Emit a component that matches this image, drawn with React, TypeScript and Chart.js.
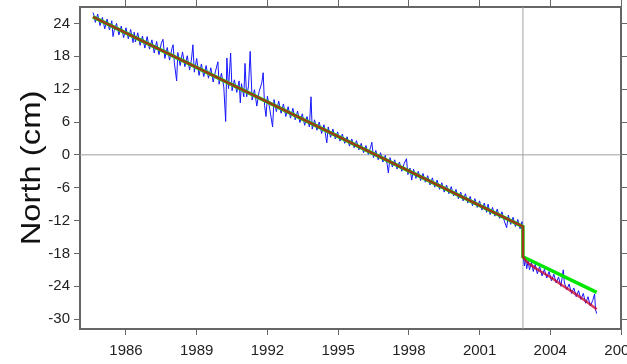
import React, { useEffect, useRef } from "react";
import { Chart, registerables } from "chart.js";

Chart.register(...registerables);

// ---- axis / labels ----
const yTitle = "North (cm)";
const xTicks = [1986, 1989, 1992, 1995, 1998, 2001, 2004, 2007];
const yTicks = [-30, -24, -18, -12, -6, 0, 6, 12, 18, 24];
const xMin = 1984.05;
const xMax = 2007;
const yMin = -31.8;
const yMax = 27;
const quakeYear = 2002.84;

// ---- green: linear trend + coseismic offset ----
const trendYears = [1984.6, 2002.84, 2002.84, 2005.97];
const trendValues = [25.2, -13.1, -18.6, -25.1];

// ---- red: trend + offset + postseismic model ----
const modelYears = [1984.6, 2002.84, 2002.84, 2002.95, 2003.1, 2003.3, 2003.6, 2004.0, 2004.5, 2005.0, 2005.5, 2005.97];
const modelValues = [25.2, -13.1, -18.6, -19.3, -19.9, -20.5, -21.3, -22.3, -23.8, -25.2, -26.7, -28.2];

// ---- blue: daily north positions ----
const blueYears = [
  1984.6, 1984.65, 1984.7, 1984.8, 1984.9, 1985.0, 1985.1, 1985.2, 1985.3, 1985.4,
  1985.45, 1985.5, 1985.6, 1985.7, 1985.8, 1985.9, 1986.0, 1986.1, 1986.2, 1986.3,
  1986.35, 1986.4, 1986.5, 1986.6, 1986.7, 1986.8, 1986.9, 1987.0, 1987.1, 1987.2,
  1987.3, 1987.4, 1987.5, 1987.57, 1987.65, 1987.75, 1987.85, 1987.95, 1988.0, 1988.05,
  1988.15, 1988.2, 1988.3, 1988.4, 1988.5, 1988.6, 1988.7, 1988.78, 1988.84, 1988.9,
  1989.0, 1989.1, 1989.2, 1989.3, 1989.4, 1989.5, 1989.6, 1989.7, 1989.8, 1989.9,
  1989.95, 1990.05, 1990.15, 1990.23, 1990.28, 1990.35, 1990.44, 1990.5, 1990.6, 1990.7,
  1990.8, 1990.85, 1990.9, 1991.0, 1991.05, 1991.12, 1991.2, 1991.27, 1991.35, 1991.45,
  1991.55, 1991.65, 1991.76, 1991.82, 1991.88, 1991.94, 1992.0, 1992.1, 1992.22, 1992.28,
  1992.38, 1992.48, 1992.58, 1992.68, 1992.78, 1992.88, 1992.98, 1993.08, 1993.18, 1993.28,
  1993.38, 1993.48, 1993.58, 1993.68, 1993.78, 1993.85, 1993.9, 1994.0, 1994.1, 1994.2,
  1994.3, 1994.4, 1994.52, 1994.58, 1994.68, 1994.78, 1994.88, 1994.98, 1995.08, 1995.18,
  1995.28, 1995.38, 1995.48, 1995.58, 1995.68, 1995.78, 1995.88, 1995.98, 1996.08, 1996.18,
  1996.28, 1996.38, 1996.43, 1996.5, 1996.6, 1996.7, 1996.8, 1996.9, 1997.0, 1997.08,
  1997.13, 1997.2, 1997.3, 1997.4, 1997.5, 1997.6, 1997.7, 1997.8, 1997.9, 1997.96,
  1998.05, 1998.12, 1998.2, 1998.3, 1998.4, 1998.5, 1998.6, 1998.7, 1998.8, 1998.9,
  1999.0, 1999.1, 1999.2, 1999.3, 1999.4, 1999.5, 1999.6, 1999.7, 1999.8, 1999.9,
  2000.0, 2000.1, 2000.2, 2000.3, 2000.4, 2000.5, 2000.6, 2000.7, 2000.8, 2000.9,
  2001.0, 2001.1, 2001.2, 2001.3, 2001.36, 2001.45, 2001.55, 2001.65, 2001.75, 2001.85,
  2001.95, 2002.05, 2002.15, 2002.22, 2002.32, 2002.42, 2002.52, 2002.62, 2002.72, 2002.8,
  2002.86, 2002.9, 2002.95, 2003.0, 2003.06, 2003.12, 2003.2, 2003.28, 2003.36, 2003.45,
  2003.55, 2003.65, 2003.75, 2003.85, 2003.95, 2004.05, 2004.15, 2004.25, 2004.35, 2004.45,
  2004.55, 2004.6, 2004.7, 2004.8, 2004.9, 2005.0, 2005.1, 2005.2, 2005.3, 2005.4,
  2005.5, 2005.6, 2005.7, 2005.8, 2005.88, 2005.92, 2005.97,
];
const blueValues = [
  26.0, 25.4, 24.2, 25.7, 23.6, 25.1, 23.0, 24.8, 22.8, 24.5,
  21.6, 22.7, 24.0, 21.9, 23.5, 21.4, 23.2, 21.2, 22.9, 20.5,
  22.4, 20.6, 22.3, 20.0, 21.7, 19.5, 21.6, 19.3, 21.0, 18.6,
  20.7, 18.3, 20.4, 21.1, 17.6, 19.6, 17.3, 19.4, 20.1, 16.9,
  13.5, 18.7, 16.3, 18.8, 16.1, 18.1, 15.5, 17.5, 20.1, 15.1,
  17.6, 14.5, 16.6, 14.3, 16.3, 14.0, 15.9, 13.3, 15.3, 17.0,
  12.9, 14.9, 12.4, 6.1, 17.7, 12.1, 18.6, 11.7, 13.7, 11.4,
  13.5, 9.5, 13.0, 10.6, 16.7, 10.6, 12.6, 18.9, 10.0, 11.9,
  8.9, 11.6, 13.1, 15.0, 9.0, 7.0, 10.7, 8.4, 5.1, 10.1,
  7.9, 9.8, 7.6, 9.3, 7.0, 8.8, 6.7, 8.5, 6.4, 8.0,
  5.9, 7.5, 5.4, 7.0, 5.1, 10.6, 4.7, 6.4, 4.5, 6.0,
  3.9, 5.5, 2.2, 5.1, 3.2, 4.7, 2.9, 4.2, 2.5, 3.8,
  2.1, 3.3, 1.6, 2.9, 1.3, 2.6, 0.9, 2.1, 0.4, 1.7,
  0.1, 1.4, 2.3, -0.5, 0.8, -0.9, 0.4, -1.3, -0.1, -1.7,
  -3.3, -0.5, -2.2, -0.9, -2.6, -1.3, -3.0, -1.6, -0.7, -3.6,
  -2.4, -4.6, -2.6, -4.3, -3.0, -4.7, -3.4, -5.0, -3.8, -5.5,
  -4.2, -5.9, -4.6, -6.3, -5.1, -6.8, -5.5, -7.1, -5.8, -7.5,
  -6.3, -8.0, -6.8, -8.4, -7.1, -8.8, -7.6, -9.3, -8.0, -9.6,
  -8.4, -10.1, -8.8, -10.5, -9.0, -10.9, -9.6, -11.2, -9.9, -11.6,
  -10.4, -12.1, -13.3, -11.0, -12.7, -11.4, -13.1, -11.8, -13.5, -12.2,
  -18.7, -20.3, -19.0, -20.8, -19.4, -21.0, -19.6, -21.3, -20.0, -21.7,
  -20.4, -22.1, -20.9, -22.5, -21.3, -23.0, -21.8, -23.4, -22.3, -24.0,
  -21.0, -23.4, -24.6, -23.6, -25.3, -24.3, -25.9, -24.8, -26.4, -25.3,
  -27.1, -25.9, -27.6, -26.6, -25.4, -28.3, -29.0,
];

const FONT = "'Liberation Sans', Arial, Helvetica, sans-serif";
const AXIS_COLOR = "#666";

const toPoints = (xs: number[], ys: number[]) => xs.map((x, i) => ({ x, y: ys[i] }));

const titlePlugin = {
  id: "stretchedYTitle",
  afterDraw(chart: any) {
    const { ctx, chartArea } = chart;
    ctx.save();
    ctx.translate(39.5, (chartArea.top + chartArea.bottom) / 2);
    ctx.rotate(-Math.PI / 2);
    ctx.scale(1.17, 1);
    ctx.font = `28px ${FONT}`;
    ctx.fillStyle = "#111";
    ctx.textAlign = "center";
    ctx.textBaseline = "alphabetic";
    ctx.fillText(yTitle, 0, 0);
    ctx.restore();
  },
};

export default function App() {
  const ref = useRef<HTMLCanvasElement | null>(null);

  useEffect(() => {
    document.body.style.margin = "0";
    const canvas = ref.current;
    if (!canvas) return;

    const xTickBuilder = (s: any) => {
      s.ticks = xTicks.map((v) => ({ value: v }));
    };
    const yTickBuilder = (s: any) => {
      s.ticks = yTicks.map((v) => ({ value: v }));
    };
    const fitX = (h: number) => (s: any) => {
      s.height = h;
      s.paddingLeft = 0;
      s.paddingRight = 0;
    };
    const fitY = (w: number) => (s: any) => {
      s.width = w;
      s.paddingTop = 0;
      s.paddingBottom = 0;
    };

    const chart = new Chart(canvas, {
      type: "scatter",
      data: {
        datasets: [
          {
            label: "model",
            data: toPoints(modelYears, modelValues),
            showLine: true,
            borderColor: "rgba(205,0,35,0.75)",
            borderWidth: 2.5,
            pointRadius: 0,
            order: 0,
          },
          {
            label: "trend",
            data: toPoints(trendYears, trendValues),
            showLine: true,
            borderColor: "#00e600",
            borderWidth: 3.5,
            pointRadius: 0,
            order: 1,
          },
          {
            label: "north",
            data: toPoints(blueYears, blueValues),
            showLine: true,
            borderColor: "#1515ff",
            borderWidth: 1,
            pointRadius: 0,
            order: 2,
          },
          {
            label: "zero",
            data: [
              { x: xMin, y: 0 },
              { x: xMax, y: 0 },
            ],
            showLine: true,
            borderColor: "#a0a0a0",
            borderWidth: 1,
            pointRadius: 0,
            order: 3,
          },
          {
            label: "earthquake",
            data: [
              { x: quakeYear, y: yMin },
              { x: quakeYear, y: yMax },
            ],
            showLine: true,
            borderColor: "#a0a0a0",
            borderWidth: 1,
            pointRadius: 0,
            order: 3,
          },
        ],
      },
      options: {
        responsive: false,
        animation: false,
        events: [],
        layout: { padding: 0 },
        plugins: {
          legend: { display: false },
          tooltip: { enabled: false },
          title: { display: false },
        },
        scales: {
          x: {
            type: "linear",
            position: "bottom",
            min: xMin,
            max: xMax,
            afterBuildTicks: xTickBuilder,
            afterFit: fitX(35),
            ticks: {
              font: { family: FONT, size: 15 },
              color: "#222",
              padding: 7,
              maxRotation: 0,
              autoSkip: false,
              callback: (v: any) => String(v),
            },
            grid: { drawOnChartArea: false, tickLength: 6, color: AXIS_COLOR },
            border: { display: true, color: AXIS_COLOR, width: 2 },
          },
          x2: {
            type: "linear",
            position: "top",
            min: xMin,
            max: xMax,
            afterBuildTicks: xTickBuilder,
            afterFit: fitX(7),
            ticks: { display: false },
            grid: { drawOnChartArea: false, tickLength: 7, color: AXIS_COLOR },
            border: { display: true, color: AXIS_COLOR, width: 2 },
          },
          y: {
            type: "linear",
            position: "left",
            min: yMin,
            max: yMax,
            afterBuildTicks: yTickBuilder,
            afterFit: fitY(80),
            ticks: {
              font: { family: FONT, size: 15 },
              color: "#222",
              padding: 4,
              autoSkip: false,
              callback: (v: any) => String(v),
            },
            grid: { drawOnChartArea: false, tickLength: 6, color: AXIS_COLOR },
            border: { display: true, color: AXIS_COLOR, width: 2 },
          },
          y2: {
            type: "linear",
            position: "right",
            min: yMin,
            max: yMax,
            afterBuildTicks: yTickBuilder,
            afterFit: fitY(6),
            ticks: { display: false },
            grid: { drawOnChartArea: false, tickLength: 6, color: AXIS_COLOR },
            border: { display: true, color: AXIS_COLOR, width: 2 },
          },
        },
      },
      plugins: [titlePlugin],
    } as any);

    return () => chart.destroy();
  }, []);

  return (
    <div style={{ width: 627, height: 364 }}>
      <canvas ref={ref} width={627} height={364} style={{ display: "block" }} />
    </div>
  );
}
